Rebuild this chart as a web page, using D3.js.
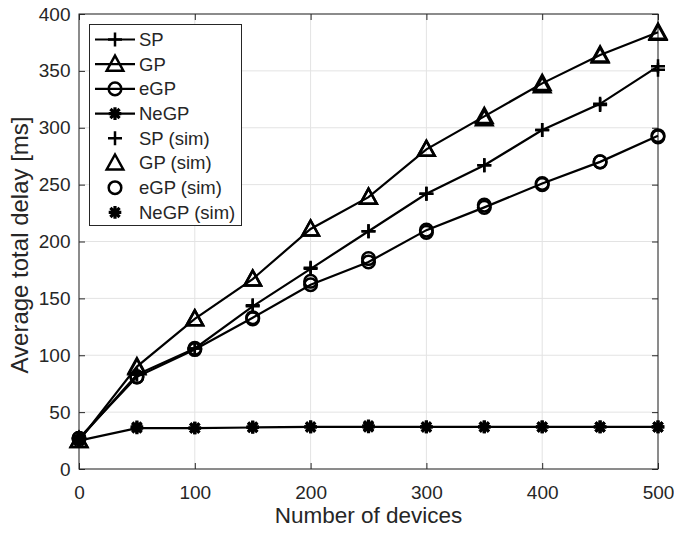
<!DOCTYPE html>
<html><head><meta charset="utf-8">
<script src="https://cdn.jsdelivr.net/npm/d3@7"></script>
<style>body{margin:0;background:#fff}svg{display:block}text{font-family:"Liberation Sans",Arial,Helvetica,sans-serif;fill:#262626}</style>
</head><body><svg id="c" width="674" height="535"></svg>
<script>
const devices = [0,50,100,150,200,250,300,350,400,450,500];
const sp     = [26,83,106,143,176,209,242,267,298,321,354];
const gp     = [25,90,132,167,211,239,281,310,339,364,384];
const egp    = [27,81,105,133,162,182,210,230,251,270,293];
const negp   = [25,36,36,36.5,37,37,37,37,37,37,37];
const spSim   = [26,83,106,144,177,209,242,267,298,320,351];
const gpSim   = [25,89,132,167,211,239,281,308,337,363,383];
const egpSim  = [27,81,106,132,165,185,208,232,250,270,292];
const negpSim = [25,37,36,37,37,38,37,37,37,37,37];
const xTicks = [0,100,200,300,400,500];
const yTicks = [0,50,100,150,200,250,300,350,400];
const xLabel = "Number of devices";
const yLabel = "Average total delay [ms]";
const legendNames = ["SP","GP","eGP","NeGP","SP (sim)","GP (sim)","eGP (sim)","NeGP (sim)"];

const L=79,R=658,T=14,B=469;
const svg=d3.select("#c");
const x=d3.scaleLinear().domain([0,500]).range([L,R]);
const y=d3.scaleLinear().domain([0,400]).range([B,T]);
const ax="#262626";

// grid
const g=svg.append("g");
g.selectAll(".gx").data(xTicks).join("line").attr("x1",d=>x(d)).attr("x2",d=>x(d)).attr("y1",T).attr("y2",B).attr("stroke","#e3e3e3").attr("stroke-width",1);
g.selectAll(".gy").data(yTicks).join("line").attr("y1",d=>y(d)).attr("y2",d=>y(d)).attr("x1",L).attr("x2",R).attr("stroke","#e3e3e3").attr("stroke-width",1);

// axes with inward ticks
const fs=19;
const xa=svg.append("g").attr("transform",`translate(0,${B})`).call(d3.axisBottom(x).tickValues(xTicks).tickSizeInner(-6).tickSizeOuter(0).tickPadding(16.5));
const xt=svg.append("g").attr("transform",`translate(0,${T})`).call(d3.axisTop(x).tickValues(xTicks).tickSizeInner(-6).tickSizeOuter(0).tickFormat(""));
const ya=svg.append("g").attr("transform",`translate(${L},0)`).call(d3.axisLeft(y).tickValues(yTicks).tickSizeInner(-6).tickSizeOuter(0).tickPadding(8.5));
const yr=svg.append("g").attr("transform",`translate(${R},0)`).call(d3.axisRight(y).tickValues(yTicks).tickSizeInner(-6).tickSizeOuter(0).tickFormat(""));
[xa,xt,ya,yr].forEach(a=>{a.select(".domain").remove();a.selectAll("line").attr("stroke",ax);a.selectAll("text").attr("font-size",fs).attr("fill",ax).style("font-family","'Liberation Sans',Arial,sans-serif");});
svg.append("rect").attr("x",L).attr("y",T).attr("width",R-L).attr("height",B-T).attr("fill","none").attr("stroke",ax).attr("stroke-width",1);

// markers
function mpath(type){
  if(type==="plus"){const r=7;return `M${-r},0H${r}M0,${-r}V${r}`;}
  if(type==="tri"){return `M0,-8.5L8.3,6.5L-8.3,6.5Z`;}
  if(type==="circ"){const r=6.3;return `M${r},0A${r},${r} 0 1,1 ${-r},0A${r},${r} 0 1,1 ${r},0Z`;}
  if(type==="star"){const r=6.3,q=4.6;return `M${-r},0H${r}M0,${-r}V${r}M${-q},${-q}L${q},${q}M${-q},${q}L${q},${-q}`;}
}
const series=[
 {v:sp,m:"plus",line:true},{v:gp,m:"tri",line:true},{v:egp,m:"circ",line:true},{v:negp,m:"star",line:true},
 {v:spSim,m:"plus",line:false},{v:gpSim,m:"tri",line:false},{v:egpSim,m:"circ",line:false},{v:negpSim,m:"star",line:false}];
const lineGen=d3.line().x((d,i)=>x(devices[i])).y(d=>y(d));
series.forEach(s=>{
  if(s.line) svg.append("path").attr("d",lineGen(s.v)).attr("fill","none").attr("stroke","#000").attr("stroke-width",2.2);
  svg.append("g").selectAll("path").data(s.v).join("path")
   .attr("transform",(d,i)=>`translate(${x(devices[i])},${y(d)})`)
   .attr("d",mpath(s.m)).attr("fill","none").attr("stroke","#000").attr("stroke-width",s.m==="star"?3.2:2.5);
});

// labels
svg.append("text").attr("x",(L+R)/2).attr("y",523).attr("text-anchor","middle").attr("font-size",22.5).text(xLabel);
svg.append("text").attr("transform",`translate(28,245) rotate(-90)`).attr("text-anchor","middle").attr("font-size",24).text(yLabel);

// legend
const lg=svg.append("g");
lg.append("rect").attr("x",89.5).attr("y",24.5).attr("width",152).attr("height",201).attr("fill","#fff").attr("stroke",ax).attr("stroke-width",1);
const types=["plus","tri","circ","star","plus","tri","circ","star"];
legendNames.forEach((n,i)=>{
  const yy=39.5+i*24.7;
  if(i<4) lg.append("line").attr("x1",95).attr("x2",135).attr("y1",yy).attr("y2",yy).attr("stroke","#000").attr("stroke-width",2.2);
  lg.append("path").attr("transform",`translate(115,${yy})`).attr("d",mpath(types[i])).attr("fill","none").attr("stroke","#000").attr("stroke-width",types[i]==="star"?3.2:2.5);
  lg.append("text").attr("x",139).attr("y",yy).attr("dy","0.35em").attr("font-size",18.5).attr("fill","#000").text(n);
});
</script></body></html>
